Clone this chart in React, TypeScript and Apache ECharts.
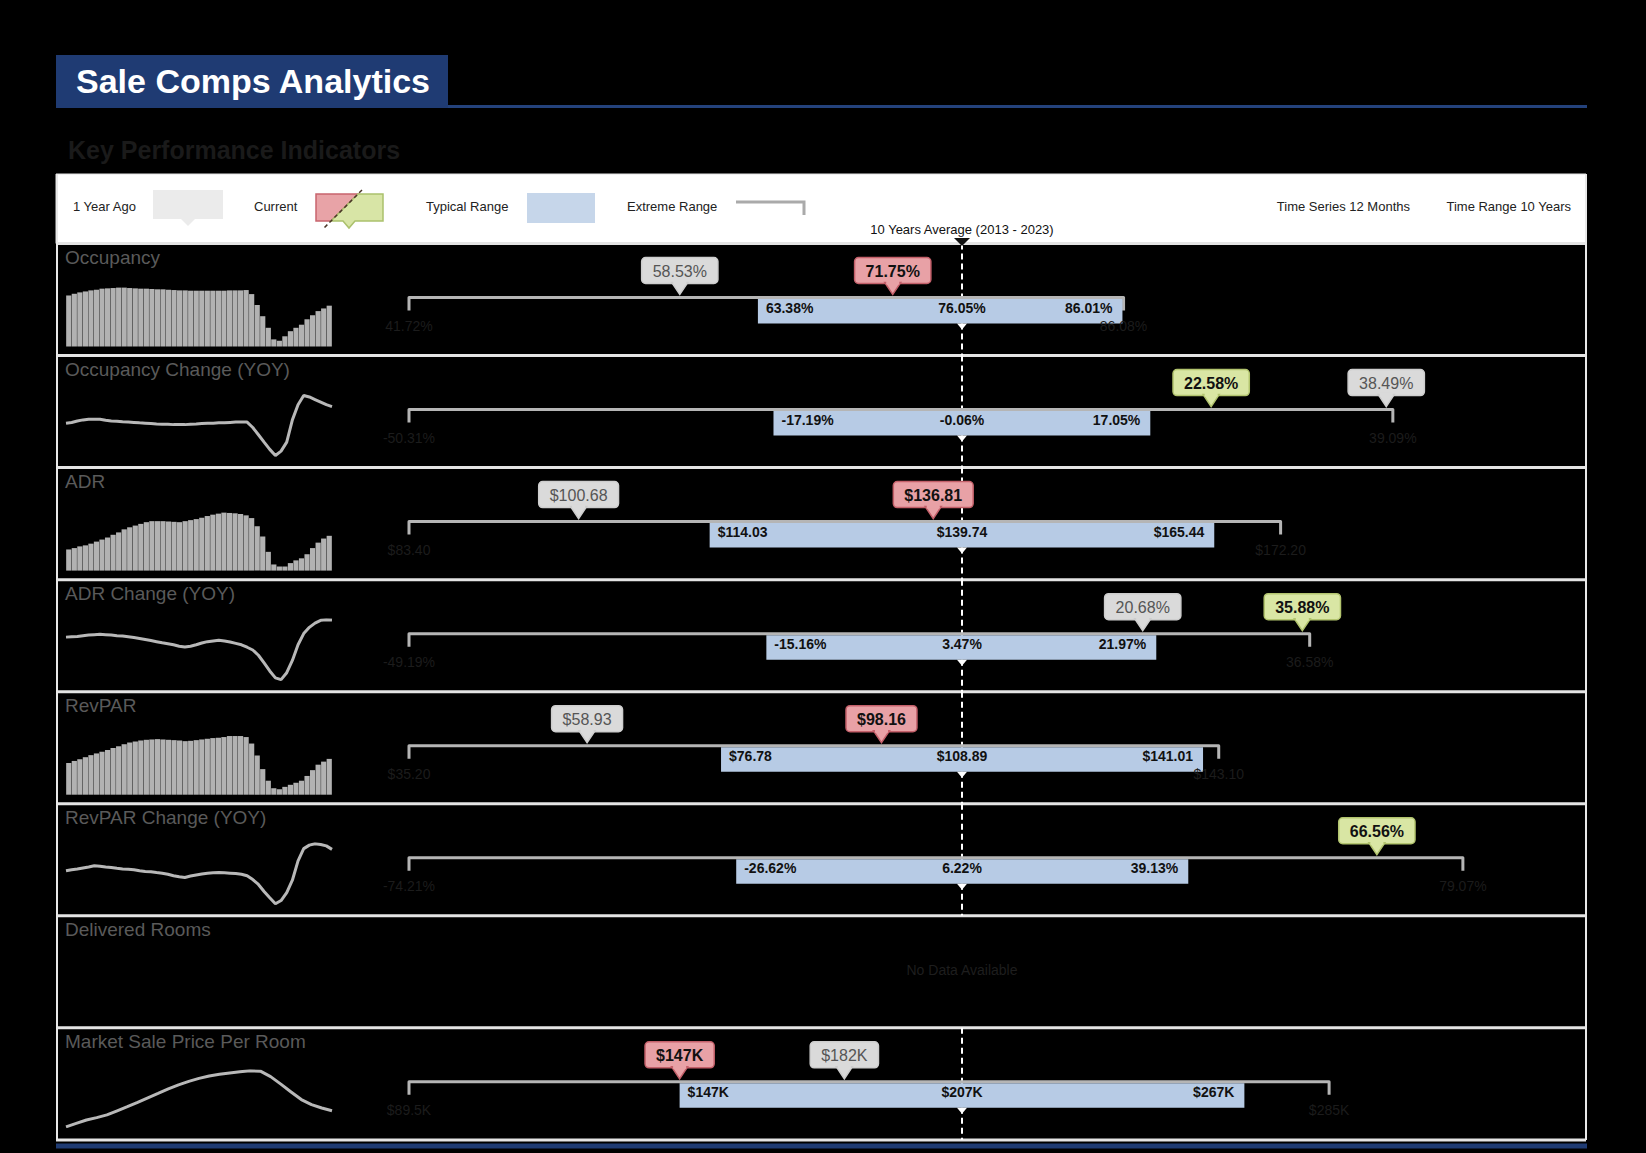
import React, { useEffect, useRef } from "react";
import * as echarts from "echarts";

const FONT = '"Liberation Sans", Arial, Helvetica, sans-serif';

// ---------- data ----------
const rowNames = [
  "Occupancy",
  "Occupancy Change (YOY)",
  "ADR",
  "ADR Change (YOY)",
  "RevPAR",
  "RevPAR Change (YOY)",
  "Delivered Rooms",
  "Market Sale Price Per Room",
];
const valueKind = ["pct", "pct", "usd", "pct", "usd", "pct", "none", "k"];
const extremeMin = [41.72, -50.31, 83.4, -49.19, 35.2, -74.21, null, 89.5];
const typicalLow = [63.38, -17.19, 114.03, -15.16, 76.78, -26.62, null, 147];
const tenYearAvg = [76.05, -0.06, 139.74, 3.47, 108.89, 6.22, null, 207];
const typicalHigh = [86.01, 17.05, 165.44, 21.97, 141.01, 39.13, null, 267];
const extremeMax = [86.08, 39.09, 172.2, 36.58, 143.1, 79.07, null, 285];
const oneYearAgo = [58.53, 38.49, 100.68, 20.68, 58.93, null, null, 182];
const currentValue = [71.75, 22.58, 136.81, 35.88, 98.16, 66.56, null, 147];

const occupancySpark = [68.0, 69.6, 70.9, 71.8, 72.8, 73.4, 74.4, 74.7, 75.0, 75.4, 75.4, 75.0, 74.7, 74.4, 74.4, 74.1, 73.8, 73.8, 73.4, 73.1, 72.8, 72.8, 72.5, 72.5, 72.5, 72.5, 72.5, 72.5, 72.5, 72.8, 72.8, 72.8, 73.1, 69.3, 59.0, 48.5, 37.6, 26.7, 25.4, 29.6, 34.4, 37.6, 40.5, 45.6, 49.4, 53.3, 55.8, 58.4];
const occChangeSpark = [-1.6, -0.5, 1.6, 3.2, 4.2, 4.2, 4.2, 2.7, 1.6, 1.1, 0.5, 0.0, -0.5, -1.1, -1.6, -2.1, -2.7, -3.2, -3.2, -3.7, -3.7, -3.7, -3.2, -2.7, -2.1, -1.6, -1.6, -1.1, -1.1, -0.5, 0.0, 0.0, 0.0, -7.9, -18.5, -29.2, -39.8, -48.8, -42.4, -29.2, 3.2, 25.4, 38.7, 36.6, 32.9, 29.2, 25.4, 22.6];
const adrSpark = [101.0, 103.0, 105.5, 107.0, 109.5, 112.5, 115.5, 118.5, 122.5, 126.0, 130.5, 133.5, 136.0, 138.5, 141.0, 142.5, 142.5, 142.5, 142.0, 141.5, 141.0, 142.5, 144.0, 145.5, 147.5, 150.0, 152.0, 153.5, 155.0, 154.5, 154.0, 153.0, 151.0, 147.0, 135.0, 120.0, 97.5, 79.0, 76.0, 76.0, 81.0, 85.0, 88.0, 94.0, 103.0, 111.0, 117.0, 121.0];
const adrChangeSpark = [11.8, 12.3, 12.8, 13.8, 14.8, 15.3, 15.8, 15.3, 14.8, 13.8, 13.3, 12.3, 11.3, 9.9, 8.4, 6.9, 5.4, 3.9, 2.5, 1.0, -1.0, -2.0, -1.0, 1.0, 3.5, 5.4, 6.4, 7.4, 6.4, 4.9, 3.0, 1.0, -2.5, -6.4, -13.8, -24.7, -36.0, -45.8, -48.3, -38.5, -21.2, 1.0, 16.8, 25.6, 31.6, 35.5, 36.5, 36.0];
const revparSpark = [66.5, 69.5, 72.0, 75.0, 78.0, 80.5, 83.0, 85.5, 88.5, 91.0, 94.0, 96.5, 98.0, 99.5, 100.5, 101.0, 101.5, 101.0, 100.5, 100.0, 99.5, 98.5, 99.0, 100.0, 101.0, 102.0, 103.0, 103.5, 104.5, 106.0, 106.0, 106.0, 104.5, 95.0, 77.5, 57.5, 40.5, 29.5, 28.0, 31.5, 34.5, 37.5, 40.5, 47.5, 56.0, 64.0, 68.5, 72.5];
const revparChangeSpark = [11.5, 14.1, 15.9, 18.5, 21.1, 23.8, 22.9, 21.1, 19.4, 17.6, 15.9, 15.0, 14.1, 11.5, 9.7, 8.8, 7.0, 5.3, 2.6, -0.9, -3.5, -5.3, -1.8, 0.9, 3.5, 5.3, 6.2, 7.0, 6.2, 5.3, 4.4, 2.6, -0.9, -10.6, -22.9, -40.5, -56.4, -71.4, -63.4, -43.2, -12.3, 36.1, 67.0, 75.8, 79.3, 77.5, 74.0, 65.2];
const marketPriceSpark = [110.0, 115.5, 121.0, 124.9, 129.3, 135.9, 142.5, 149.6, 156.8, 163.9, 171.1, 177.7, 183.2, 188.1, 192.0, 194.7, 196.9, 198.6, 200.2, 199.7, 190.9, 178.8, 166.1, 154.0, 145.8, 140.3, 135.9];

const sparkType = ["bar", "line", "bar", "line", "bar", "line", null, "line"];
const sparkSeries = [occupancySpark, occChangeSpark, adrSpark, adrChangeSpark, revparSpark, revparChangeSpark, null, marketPriceSpark];
const sparkAxisMin = [20, null, 70, null, 20, null, null, null];
const sparkAxisMax = [75.5, null, 156.5, null, 106.5, null, null, null];

// ---------- layout ----------
const W = 1646;
const H = 1153;
const ROW_Y0 = 243.5;
const ROW_H = 112.05;
const RANGE_LEFT = 409;
const RANGE_W = 1106;
const PANEL_L = 56;
const PANEL_R = 1586;

function fmt(kind: string, v: number): string {
  if (kind === "pct") return v.toFixed(2) + "%";
  if (kind === "usd") return "$" + v.toFixed(2);
  if (kind === "k") return "$" + v + "K";
  return String(v);
}

let measureCtx: CanvasRenderingContext2D | null = null;
function textWidth(t: string, size: number, weight: string): number {
  if (!measureCtx) measureCtx = document.createElement("canvas").getContext("2d");
  if (!measureCtx) return t.length * size * 0.55;
  measureCtx.font = `${weight} ${size}px ${FONT}`;
  return measureCtx.measureText(t).width;
}

function txt(x: number, y: number, text: string, align: string, fill: string, size: number, weight = "normal", extra: any = {}) {
  return {
    type: "text",
    x,
    y,
    style: { text, fill, fontSize: size, fontWeight: weight, fontFamily: FONT, align, verticalAlign: "middle" },
    ...extra,
  };
}

function callout(cx: number, top: number, text: string, kind: string) {
  const bold = kind !== "ago";
  const size = 16;
  const weight = bold ? "bold" : "normal";
  const w = textWidth(text, size, weight) + 22;
  const fill = kind === "ago" ? "#dadada" : kind === "red" ? "#e8a1a6" : "#d9e6a4";
  const stroke = kind === "ago" ? "#cdcdcd" : kind === "red" ? "#c4606a" : "#b2c46e";
  const by = top + 14;
  const bh = 26;
  return [
    { type: "rect", shape: { x: cx - w / 2, y: by, width: w, height: bh, r: 4 }, style: { fill, stroke, lineWidth: 1.5 } },
    { type: "polygon", shape: { points: [[cx - 8, by + bh - 1], [cx + 8, by + bh - 1], [cx, top + 51]] }, style: { fill, stroke, lineWidth: 1.5 } },
    { type: "rect", shape: { x: cx - 6.5, y: by + bh - 3, width: 13, height: 4 }, style: { fill } },
    txt(cx, by + bh / 2 + 0.5, text, "center", kind === "ago" ? "#555555" : "#111111", size, weight),
  ];
}

function makeRangeRenderer(kind: string) {
  return (params: any, api: any) => {
    const cs = params.coordSys;
    const top = cs.y;
    const h = cs.height;
    const X = (v: number) => api.coord([v, 0])[0];
    const mn = api.value(0);
    const lo = api.value(1);
    const av = api.value(2);
    const hi = api.value(3);
    const mx = api.value(4);
    const ago = api.value(5);
    const cur = api.value(6);
    const xa = X(av);
    const yb = top + 54;
    const ch: any[] = [];
    ch.push({ type: "line", shape: { x1: xa, y1: top, x2: xa, y2: top + h }, style: { stroke: "#ffffff", lineWidth: 2, lineDash: [6, 4] } });
    ch.push({
      type: "polyline",
      shape: { points: [[X(mn), yb + 13], [X(mn), yb], [X(mx), yb], [X(mx), yb + 13]] },
      style: { stroke: "#b5b5b5", lineWidth: 3, fill: "none", lineJoin: "round" },
    });
    ch.push({ type: "rect", shape: { x: X(lo), y: yb + 1.5, width: X(hi) - X(lo), height: 24.5 }, style: { fill: "#b7cbe5" } });
    ch.push({ type: "polygon", shape: { points: [[xa - 5, yb + 26], [xa + 5, yb + 26], [xa, yb + 32]] }, style: { fill: "#ffffff" } });
    ch.push(txt(X(lo) + 8, yb + 10.5, fmt(kind, lo), "left", "#111111", 14, "bold"));
    ch.push(txt(xa, yb + 10.5, fmt(kind, av), "center", "#111111", 14, "bold"));
    ch.push(txt(X(hi) - 10, yb + 10.5, fmt(kind, hi), "right", "#111111", 14, "bold"));
    ch.push(txt(X(mn), top + 82, fmt(kind, mn), "center", "#1c1c1c", 14));
    ch.push(txt(X(mx), top + 82, fmt(kind, mx), "center", "#1c1c1c", 14));
    if (!isNaN(ago)) ch.push(...callout(X(ago), top, fmt(kind, ago), "ago"));
    if (!isNaN(cur)) ch.push(...callout(X(cur), top, fmt(kind, cur), cur < av ? "red" : "green"));
    return { type: "group", children: ch };
  };
}

function buildOption() {
  const grids: any[] = [];
  const xAxes: any[] = [];
  const yAxes: any[] = [];
  const series: any[] = [];
  const els: any[] = [];

  // header
  els.push({ type: "rect", shape: { x: 56, y: 55, width: 392, height: 53 }, style: { fill: "#1f3b73" } });
  els.push(txt(76, 81, "Sale Comps Analytics", "left", "#ffffff", 34, "bold"));
  els.push({ type: "rect", shape: { x: 448, y: 105, width: 1139, height: 3 }, style: { fill: "#24427c" } });
  els.push(txt(68, 150, "Key Performance Indicators", "left", "#1a1a1a", 25, "bold"));

  // legend box
  els.push({ type: "rect", shape: { x: PANEL_L, y: 174, width: PANEL_R - PANEL_L, height: 69.5 }, style: { fill: "#ffffff", stroke: "#e2e2e2", lineWidth: 1 } });
  const LY = 206;
  els.push(txt(73, LY, "1 Year Ago", "left", "#222222", 13));
  els.push({ type: "rect", shape: { x: 153, y: 190, width: 70, height: 29 }, style: { fill: "#ebebeb" } });
  els.push({ type: "polygon", shape: { points: [[181, 219], [195, 219], [188, 226]] }, style: { fill: "#ebebeb" } });
  els.push(txt(254, LY, "Current", "left", "#222222", 13));
  els.push({ type: "polygon", shape: { points: [[316, 194], [358, 194], [331, 221], [316, 221]] }, style: { fill: "#e8a3a7", stroke: "#c8646d", lineWidth: 1.5 } });
  els.push({
    type: "polygon",
    shape: { points: [[358, 194], [383, 194], [383, 221], [355, 221], [349, 228], [343, 221], [331, 221]] },
    style: { fill: "#d8e5a6", stroke: "#abc16c", lineWidth: 1.5 },
  });
  els.push({ type: "line", shape: { x1: 362, y1: 190, x2: 323, y2: 229 }, style: { stroke: "#4a3528", lineWidth: 1.5, lineDash: [4, 3] } });
  els.push(txt(426, LY, "Typical Range", "left", "#222222", 13));
  els.push({ type: "rect", shape: { x: 527, y: 193, width: 68, height: 30 }, style: { fill: "#c6d6ea" } });
  els.push(txt(627, LY, "Extreme Range", "left", "#222222", 13));
  els.push({ type: "polyline", shape: { points: [[736, 202], [804, 202], [804, 215]] }, style: { stroke: "#aaaaaa", lineWidth: 3, fill: "none" } });
  els.push(txt(1410, LY, "Time Series 12 Months", "right", "#222222", 13));
  els.push(txt(1571, LY, "Time Range 10 Years", "right", "#222222", 13));
  els.push(txt(962, 229, "10 Years Average (2013 - 2023)", "center", "#111111", 13));

  // row frames
  for (let i = 0; i <= rowNames.length; i++) {
    const y = ROW_Y0 + i * ROW_H;
    els.push({ type: "line", shape: { x1: PANEL_L, y1: y, x2: PANEL_R, y2: y }, style: { stroke: "#e4e4e4", lineWidth: 3 } });
  }
  const bottomY = ROW_Y0 + rowNames.length * ROW_H;
  els.push({ type: "line", shape: { x1: PANEL_L + 1, y1: 174, x2: PANEL_L + 1, y2: bottomY }, style: { stroke: "#e8e8e8", lineWidth: 2 } });
  els.push({ type: "line", shape: { x1: PANEL_R, y1: 174, x2: PANEL_R, y2: bottomY }, style: { stroke: "#e8e8e8", lineWidth: 2 } });
  els.push({ type: "rect", shape: { x: PANEL_L, y: bottomY + 3.5, width: PANEL_R - PANEL_L + 1, height: 5 }, style: { fill: "#1f3b73" } });
  els.push({ type: "polygon", shape: { points: [[954, 238], [970, 238], [962, 246]] }, style: { fill: "#111111" }, z: 10 });

  rowNames.forEach((name, i) => {
    const top = ROW_Y0 + i * ROW_H;
    els.push(txt(65, top + 14, name, "left", "#5a5a5a", 19));

    if (extremeMin[i] != null) {
      const av = tenYearAvg[i] as number;
      const half = Math.max(av - (extremeMin[i] as number), (extremeMax[i] as number) - av);
      const gi = grids.length;
      grids.push({ left: RANGE_LEFT, top, width: RANGE_W, height: ROW_H });
      xAxes.push({ gridIndex: gi, type: "value", min: av - half, max: av + half, show: false });
      yAxes.push({ gridIndex: gi, type: "value", min: 0, max: 1, show: false });
      series.push({
        type: "custom",
        xAxisIndex: gi,
        yAxisIndex: gi,
        z: 5,
        silent: true,
        data: [[
          extremeMin[i], typicalLow[i], av, typicalHigh[i], extremeMax[i],
          oneYearAgo[i] == null ? "-" : oneYearAgo[i],
          currentValue[i] == null ? "-" : currentValue[i],
        ]],
        renderItem: makeRangeRenderer(valueKind[i]),
      });
    } else {
      els.push(txt(962, top + 54, "No Data Available", "center", "#1e1e1e", 14));
    }

    const data = sparkSeries[i];
    const type = sparkType[i];
    if (data && type) {
      const gi = grids.length;
      const isBar = type === "bar";
      const sTop = top + (isBar ? 44 : i === 7 ? 43 : 40);
      const sH = isBar ? 59 : i === 7 ? 56 : 60;
      grids.push({ left: 66, top: sTop, width: 266, height: sH });
      xAxes.push({ gridIndex: gi, type: "category", data: data.map((_, k) => k), boundaryGap: isBar, show: false });
      yAxes.push({
        gridIndex: gi,
        type: "value",
        min: sparkAxisMin[i] == null ? "dataMin" : sparkAxisMin[i],
        max: sparkAxisMax[i] == null ? "dataMax" : sparkAxisMax[i],
        scale: true,
        show: false,
      });
      if (isBar) {
        series.push({ type: "bar", xAxisIndex: gi, yAxisIndex: gi, data, barCategoryGap: "6%", itemStyle: { color: "#b2b2b2" }, silent: true });
      } else {
        series.push({
          type: "line",
          xAxisIndex: gi,
          yAxisIndex: gi,
          data,
          showSymbol: false,
          symbol: "none",
          lineStyle: { color: "#b8b8b8", width: 3 },
          silent: true,
        });
      }
    }
  });

  return {
    animation: false,
    backgroundColor: "#000000",
    grid: grids,
    xAxis: xAxes,
    yAxis: yAxes,
    series,
    graphic: { elements: els },
  };
}

export default function App() {
  const ref = useRef<HTMLDivElement>(null);
  useEffect(() => {
    if (!ref.current) return;
    const chart = echarts.init(ref.current, null, { renderer: "svg", width: W, height: H });
    chart.setOption(buildOption() as any);
    return () => chart.dispose();
  }, []);
  return <div ref={ref} style={{ position: "absolute", left: 0, top: 0, width: W, height: H, background: "#000" }} />;
}
